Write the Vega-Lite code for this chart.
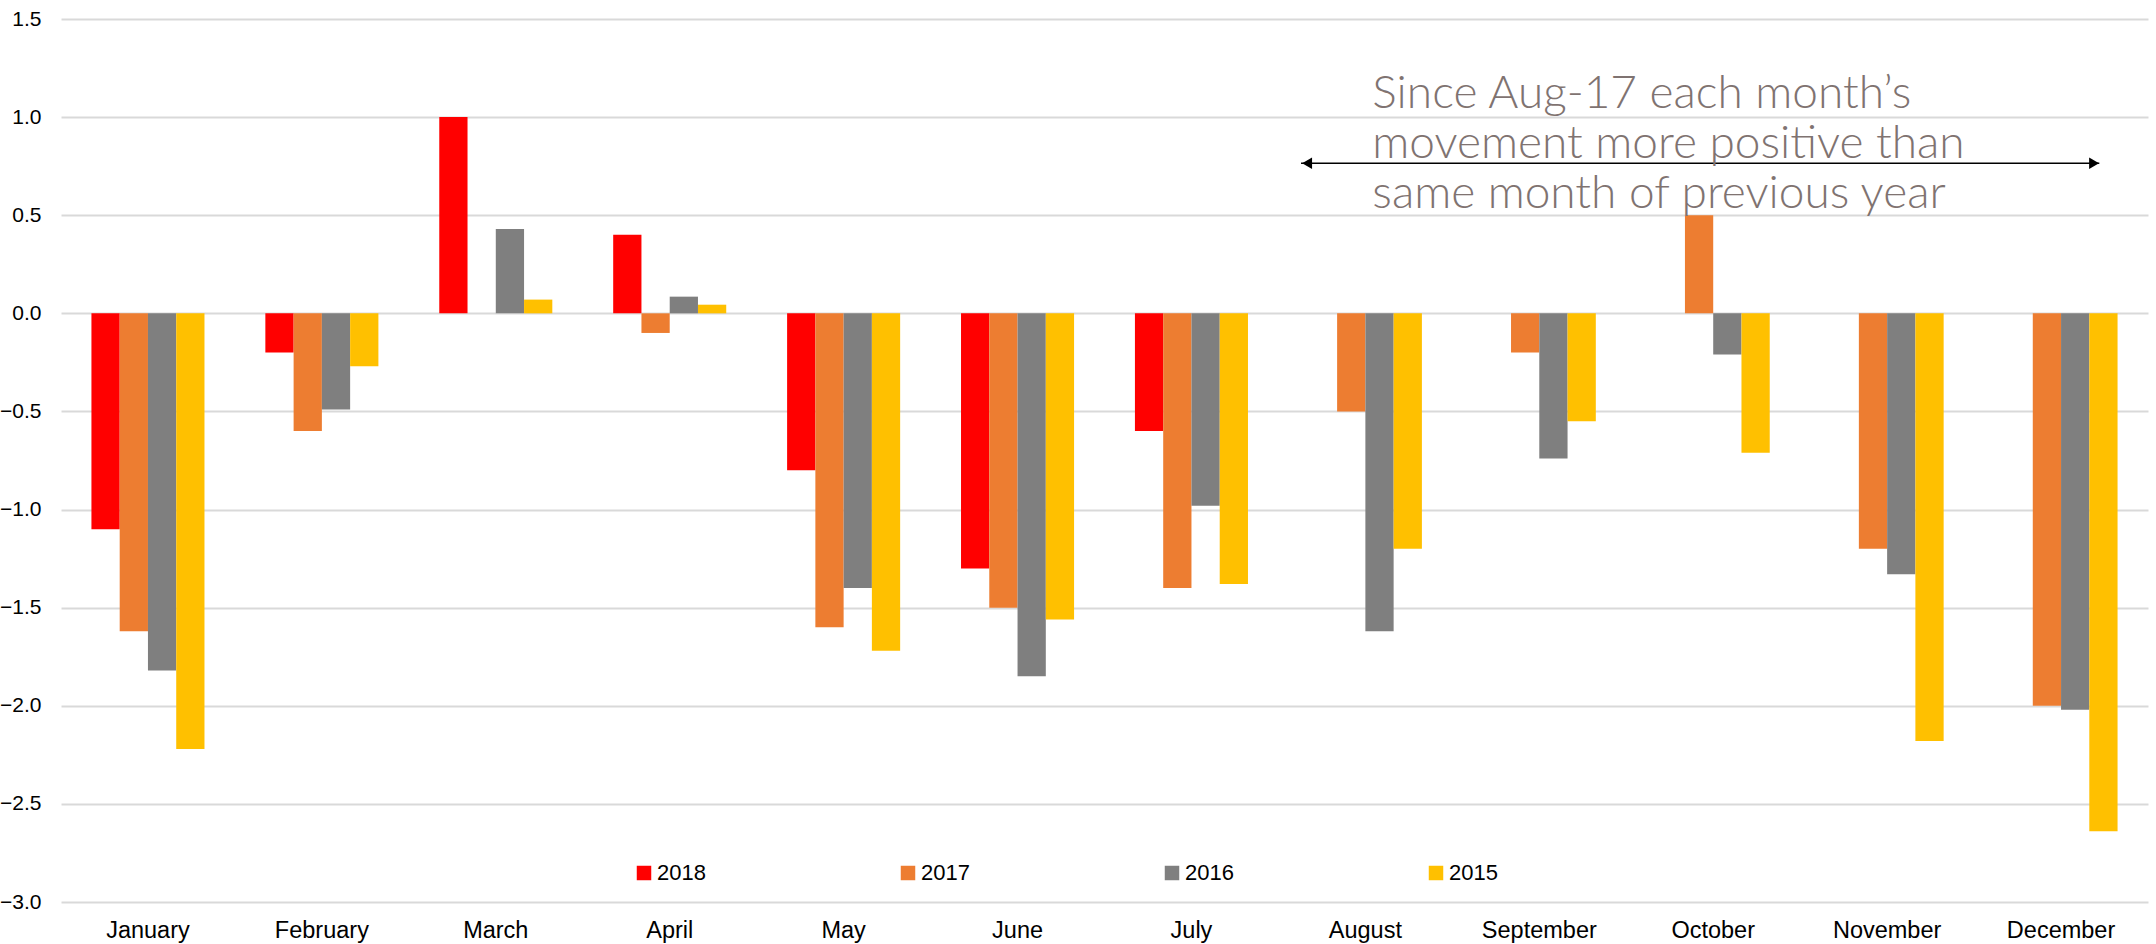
{
  "$schema": "https://vega.github.io/schema/vega-lite/v6.json",
  "autosize": {"type": "none"},
  "width": 2087,
  "height": 883,
  "padding": {"left": 61, "top": 19, "right": 8, "bottom": 42},
  "background": "white",
  "config": {
    "view": {"stroke": null},
    "font": "Liberation Sans",
    "axis": {"labelFont": "Liberation Sans", "labelColor": "#000000", "domain": false, "ticks": false}
  },
  "layer": [
    {
      "data": {"values": [
        {"month": "January", "year": "2018", "value": -1.1},
        {"month": "January", "year": "2017", "value": -1.62},
        {"month": "January", "year": "2016", "value": -1.82},
        {"month": "January", "year": "2015", "value": -2.22},
        {"month": "February", "year": "2018", "value": -0.2},
        {"month": "February", "year": "2017", "value": -0.6},
        {"month": "February", "year": "2016", "value": -0.49},
        {"month": "February", "year": "2015", "value": -0.27},
        {"month": "March", "year": "2018", "value": 1.0},
        {"month": "March", "year": "2017", "value": 0.0},
        {"month": "March", "year": "2016", "value": 0.43},
        {"month": "March", "year": "2015", "value": 0.07},
        {"month": "April", "year": "2018", "value": 0.4},
        {"month": "April", "year": "2017", "value": -0.1},
        {"month": "April", "year": "2016", "value": 0.085},
        {"month": "April", "year": "2015", "value": 0.044},
        {"month": "May", "year": "2018", "value": -0.8},
        {"month": "May", "year": "2017", "value": -1.6},
        {"month": "May", "year": "2016", "value": -1.4},
        {"month": "May", "year": "2015", "value": -1.72},
        {"month": "June", "year": "2018", "value": -1.3},
        {"month": "June", "year": "2017", "value": -1.5},
        {"month": "June", "year": "2016", "value": -1.85},
        {"month": "June", "year": "2015", "value": -1.56},
        {"month": "July", "year": "2018", "value": -0.6},
        {"month": "July", "year": "2017", "value": -1.4},
        {"month": "July", "year": "2016", "value": -0.98},
        {"month": "July", "year": "2015", "value": -1.38},
        {"month": "August", "year": "2017", "value": -0.5},
        {"month": "August", "year": "2016", "value": -1.62},
        {"month": "August", "year": "2015", "value": -1.2},
        {"month": "September", "year": "2017", "value": -0.2},
        {"month": "September", "year": "2016", "value": -0.74},
        {"month": "September", "year": "2015", "value": -0.55},
        {"month": "October", "year": "2017", "value": 0.5},
        {"month": "October", "year": "2016", "value": -0.21},
        {"month": "October", "year": "2015", "value": -0.71},
        {"month": "November", "year": "2017", "value": -1.2},
        {"month": "November", "year": "2016", "value": -1.33},
        {"month": "November", "year": "2015", "value": -2.18},
        {"month": "December", "year": "2017", "value": -2.0},
        {"month": "December", "year": "2016", "value": -2.02},
        {"month": "December", "year": "2015", "value": -2.64}
      ]},
      "mark": {"type": "bar"},
      "encoding": {
        "x": {
          "field": "month", "type": "nominal",
          "sort": ["January","February","March","April","May","June","July","August","September","October","November","December"],
          "scale": {"paddingInner": 0.35, "paddingOuter": 0.175},
          "axis": {"title": null, "labelAngle": 0, "labelFontSize": 23.5, "labelPadding": 16, "grid": false}
        },
        "xOffset": {
          "field": "year", "type": "nominal",
          "scale": {"domain": ["2018","2017","2016","2015"], "paddingInner": 0, "paddingOuter": 0}
        },
        "y": {
          "field": "value", "type": "quantitative",
          "scale": {"domain": [-3, 1.5], "nice": false, "zero": false},
          "axis": {
            "title": null, "values": [-3,-2.5,-2,-1.5,-1,-0.5,0,0.5,1,1.5],
            "format": ".1f", "labelFontSize": 21, "labelPadding": 20,
            "grid": true, "gridColor": "#d9d9d9", "gridWidth": 2
          }
        },
        "color": {
          "field": "year", "type": "nominal",
          "scale": {"domain": ["2018","2017","2016","2015"], "range": ["#ff0000","#ed7d31","#7f7f7f","#ffc000"]},
          "legend": {
            "title": null, "orient": "none", "direction": "horizontal",
            "legendX": 572, "legendY": 843,
            "symbolType": "square", "symbolSize": 210, "symbolStrokeWidth": 0,
            "labelFontSize": 22, "labelFont": "Liberation Sans", "labelColor": "#000000",
            "labelOffset": 2, "columnPadding": 191, "padding": 0
          }
        }
      }
    },
    {
      "data": {"values": [{"label": "annotation"}]},
      "layer": [
        {
          "mark": {"type": "rule", "color": "#000000", "strokeWidth": 1.6},
          "encoding": {
            "x": {"datum": 7.13, "type": "quantitative", "scale": {"domain": [0, 12], "nice": false, "zero": false}, "axis": null},
            "x2": {"datum": 11.72},
            "y": {"datum": 0.765, "type": "quantitative"}
          }
        },
        {
          "mark": {"type": "point", "shape": "triangle-left", "filled": true, "color": "#000000", "size": 130, "opacity": 1},
          "encoding": {
            "x": {"datum": 7.165, "type": "quantitative"},
            "y": {"datum": 0.765, "type": "quantitative"}
          }
        },
        {
          "mark": {"type": "point", "shape": "triangle-right", "filled": true, "color": "#000000", "size": 130, "opacity": 1},
          "encoding": {
            "x": {"datum": 11.69, "type": "quantitative"},
            "y": {"datum": 0.765, "type": "quantitative"}
          }
        },
        {
          "mark": {
            "type": "text", "align": "left", "baseline": "middle",
            "font": "Lato", "fontWeight": 300, "fontSize": 46, "color": "#7f7371",
            "lineBreak": "\n", "lineHeight": 50
          },
          "encoding": {
            "x": {"datum": 7.54, "type": "quantitative"},
            "y": {"datum": 1.12, "type": "quantitative"},
            "text": {"value": "Since Aug-17 each month’s\nmovement more positive than\nsame month of previous year"}
          }
        }
      ]
    }
  ],
  "resolve": {"scale": {"x": "independent", "y": "shared"}}
}
